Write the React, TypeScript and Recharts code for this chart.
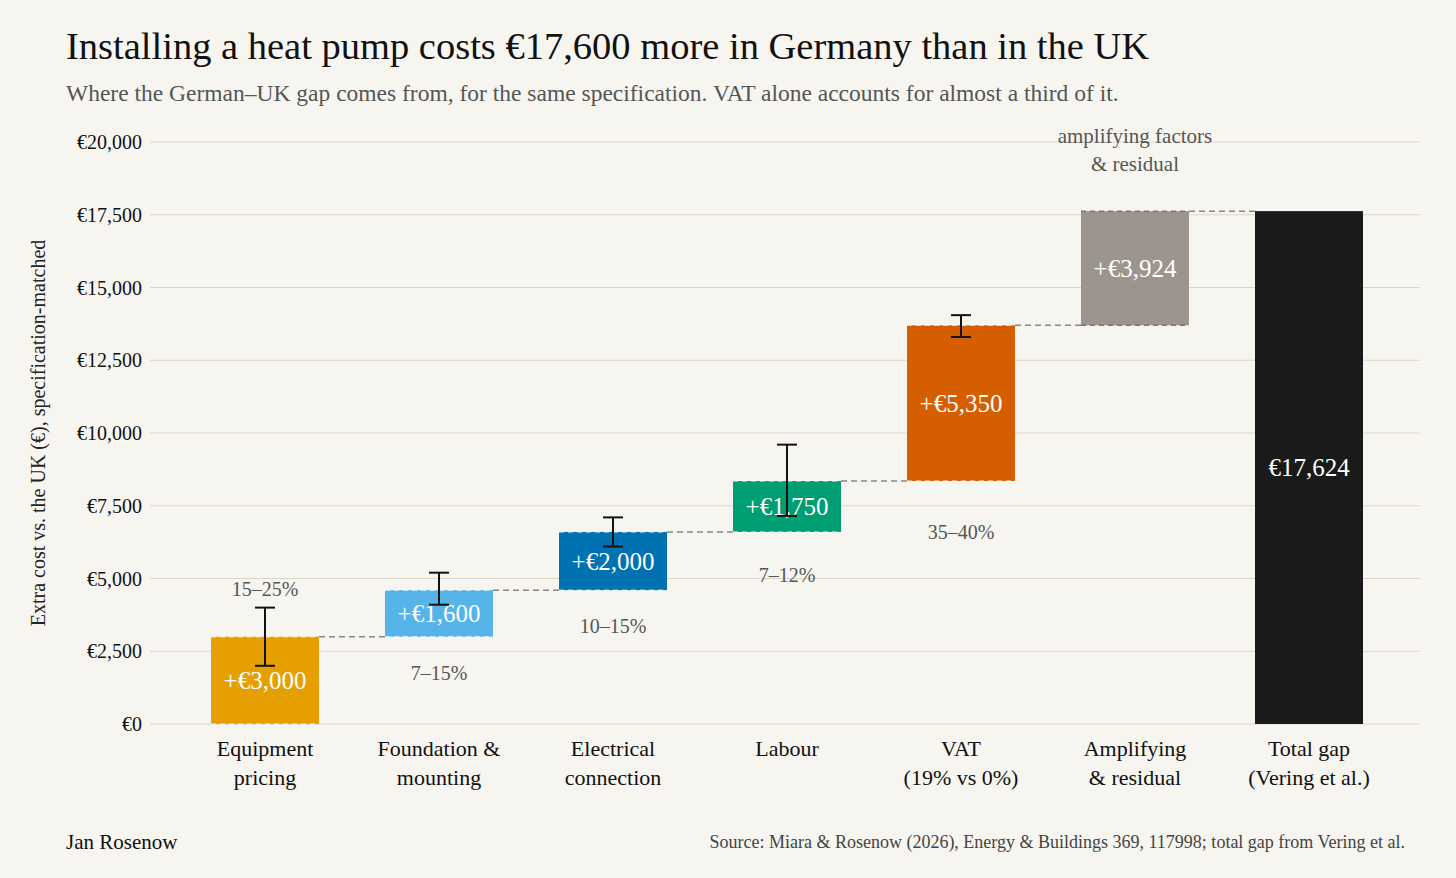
import React from 'react';
import { ComposedChart, Bar, XAxis, YAxis, CartesianGrid, Label } from 'recharts';

const categories = ['Equipment\npricing', 'Foundation &\nmounting', 'Electrical\nconnection', 'Labour', 'VAT\n(19% vs 0%)', 'Amplifying\n& residual', 'Total gap\n(Vering et al.)'];
const bases = [0, 3000, 4600, 6600, 8350, 13700, 0];
const values = [3000, 1600, 2000, 1750, 5350, 3924, 17624];
const valueLabels = ['+€3,000', '+€1,600', '+€2,000', '+€1,750', '+€5,350', '+€3,924', '€17,624'];
const errLow = [2000, 4100, 6100, 7150, 13300, null, null];
const errHigh = [4000, 5200, 7100, 9600, 14050, null, null];
const notes = ['15–25%', '7–15%', '10–15%', '7–12%', '35–40%', '', ''];
const noteValues = [4650, 1750, 3370, 5120, 6600, 0, 0];
const colors = ['#E69F00', '#56B4E9', '#0072B2', '#009E73', '#D55E00', '#9C958E', '#1A1A1A'];
const yTicks = [0, 2500, 5000, 7500, 10000, 12500, 15000, 17500, 20000];

const data = categories.map((c, i) => ({
  name: c, base: bases[i], value: values[i], label: valueLabels[i],
  lo: errLow[i], hi: errHigh[i], note: notes[i], noteV: noteValues[i], color: colors[i], idx: i,
}));

const FONT = '"Liberation Serif", "DejaVu Serif", serif';
const GAP = 66;

const ValueShape = (props: any) => {
  const { x, y, width, height, payload } = props;
  const p = payload;
  const top = p.base + p.value;
  const k = height / p.value;
  const toY = (v: number) => y + (top - v) * k;
  const cx = x + width / 2;
  const last = p.idx === 6;
  const isAmp = p.idx === 5;
  return (
    <g>
      <rect x={x} y={y} width={width} height={height} fill={p.color} />
      {!last && (
        <>
          <line x1={x} x2={x + width} y1={y} y2={y} stroke={isAmp ? '#777' : 'rgba(255,255,255,0.6)'} strokeDasharray="5 4" strokeWidth={1.5} />
          <line x1={x} x2={x + width} y1={y + height} y2={y + height} stroke={isAmp ? '#777' : 'rgba(255,255,255,0.6)'} strokeDasharray="5 4" strokeWidth={1.5} />
          <line x1={x + width} x2={x + width + GAP} y1={y} y2={y} stroke="#888" strokeDasharray="6 4" strokeWidth={1.5} />
        </>
      )}
      <text x={cx} y={y + height / 2} textAnchor="middle" dominantBaseline="central" fill="#fff" fontSize={25} fontFamily={FONT}>{p.label}</text>
      {p.lo != null && (
        <g stroke="#111" strokeWidth={2}>
          <line x1={cx} x2={cx} y1={toY(p.hi)} y2={toY(p.lo)} />
          <line x1={cx - 10} x2={cx + 10} y1={toY(p.hi)} y2={toY(p.hi)} />
          <line x1={cx - 10} x2={cx + 10} y1={toY(p.lo)} y2={toY(p.lo)} />
        </g>
      )}
      {p.note && (
        <text x={cx} y={toY(p.noteV)} textAnchor="middle" dominantBaseline="central" fill="#555" fontSize={20} fontFamily={FONT}>{p.note}</text>
      )}
      {isAmp && (
        <text x={cx} textAnchor="middle" fill="#555" fontSize={21} fontFamily={FONT}>
          <tspan x={cx} y={y - 68}>amplifying factors</tspan>
          <tspan x={cx} y={y - 40}>&amp; residual</tspan>
        </text>
      )}
    </g>
  );
};

const XTick = (props: any) => {
  const { x, y, payload } = props;
  const lines = String(payload.value).split('\n');
  return (
    <text x={x} y={y} textAnchor="middle" fill="#111" fontSize={22} fontFamily={FONT}>
      {lines.map((l, i) => <tspan key={i} x={x} dy={i === 0 ? 24 : 29}>{l}</tspan>)}
    </text>
  );
};

const fmt = (v: number) => '€' + v.toLocaleString('en-US');

export default function App() {
  return (
    <div style={{ position: 'absolute', left: 0, top: 0, width: 1456, height: 878, background: '#F7F5EF', fontFamily: FONT, overflow: 'hidden' }}>
      <div style={{ position: 'absolute', left: 66, top: 24, fontSize: 38.5, color: '#111', whiteSpace: 'nowrap' }}>Installing a heat pump costs €17,600 more in Germany than in the UK</div>
      <div style={{ position: 'absolute', left: 66, top: 80, fontSize: 23.5, color: '#555', whiteSpace: 'nowrap' }}>Where the German–UK gap comes from, for the same specification. VAT alone accounts for almost a third of it.</div>
      <ComposedChart width={1456} height={878} data={data} margin={{ top: 142, right: 36, bottom: 124, left: 60 }} style={{ position: 'absolute', left: 0, top: 0 }}>
        <CartesianGrid vertical={false} stroke="#DDD6C8" />
        <XAxis dataKey="name" interval={0} tick={<XTick />} axisLine={false} tickLine={false} padding={{ left: 28, right: 24 }} />
        <YAxis width={90} domain={[0, 20000]} ticks={yTicks} tickFormatter={fmt} axisLine={false} tickLine={false} tick={{ fill: '#111', fontSize: 20, fontFamily: FONT }}>
          <Label angle={-90} position="insideLeft" offset={-22} value="Extra cost vs. the UK (€), specification-matched" style={{ textAnchor: 'middle', fill: '#222', fontSize: 20, fontFamily: FONT }} />
        </YAxis>
        <Bar dataKey="base" stackId="a" fill="transparent" isAnimationActive={false} barSize={108} />
        <Bar dataKey="value" stackId="a" isAnimationActive={false} barSize={108} shape={<ValueShape />} />
      </ComposedChart>
      <div style={{ position: 'absolute', left: 66, top: 830, fontSize: 21, color: '#111' }}>Jan Rosenow</div>
      <div style={{ position: 'absolute', right: 51, top: 832, fontSize: 18, color: '#444', whiteSpace: 'nowrap' }}>Source: Miara &amp; Rosenow (2026), Energy &amp; Buildings 369, 117998; total gap from Vering et al.</div>
    </div>
  );
}
